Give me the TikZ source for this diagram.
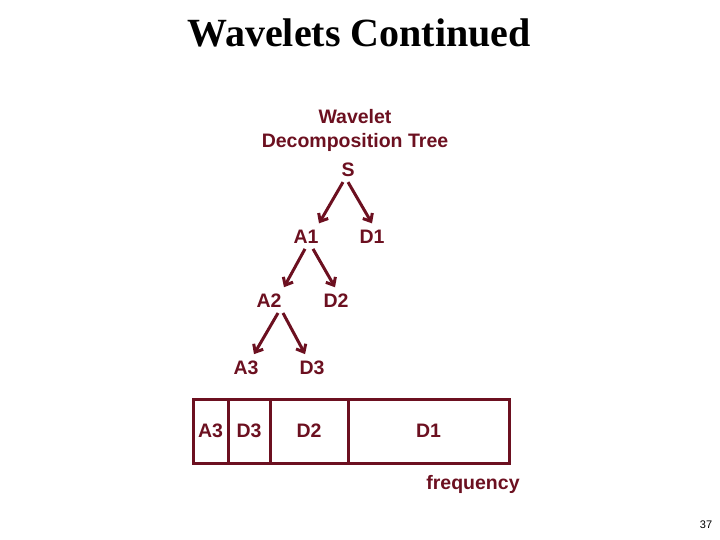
\documentclass[tikz,border=0pt]{standalone}
\usepackage{fontspec}
\setmainfont{Liberation Serif}
\setsansfont{Liberation Sans}
\usepackage{tikz}
\usetikzlibrary{positioning, arrows.meta}
\definecolor{wineRed}{RGB}{108, 16, 32}

\begin{document}
\begin{tikzpicture}[
    x=1pt, y=-1pt,
    lbl/.style={text=wineRed, font=\sffamily\bfseries\fontsize{19.5}{24}\selectfont,
                inner sep=5pt},
    cell/.style={draw=wineRed, line width=3pt, minimum height=64pt, inner sep=0pt,
                 text=wineRed, font=\sffamily\bfseries\fontsize{19.5}{24}\selectfont},
    branch/.style={draw=wineRed, line width=3pt, shorten >=2pt,
                   -{Straight Barb[length=6.5pt, width=11pt]}},
  ]
    \useasboundingbox (0,0) rectangle (720,540);

    % title
    \node[anchor=base, font=\bfseries\fontsize{40}{44}\selectfont] (TITLE) at (359,47)
      {Wavelets Continued};

    % tree heading
    \node[lbl, align=center, inner sep=0pt] (HEAD) at (355,130)
      {Wavelet\\Decomposition Tree};

    % tree nodes
    \node[lbl] (S)  at (348,170) {S};
    \node[lbl] (A1) at (306,237) {A1};
    \node[lbl] (D1) at (372,237) {D1};
    \node[lbl] (A2) at (269,301) {A2};
    \node[lbl] (D2) at (336,301) {D2};
    \node[lbl] (A3) at (246,368) {A3};
    \node[lbl] (D3) at (312,368) {D3};

    \draw[branch] ([xshift=-5pt]S.south) -- ([xshift=12pt]A1.north);
    \draw[branch] (S.south) -- ([xshift=1pt]D1.north);
    \draw[branch] ([xshift=-1pt]A1.south) -- ([xshift=14pt]A2.north);
    \draw[branch] ([xshift=7pt]A1.south) -- (D2.north);
    \draw[branch] ([xshift=9pt]A2.south) -- ([xshift=7pt]A3.north);
    \draw[branch] ([xshift=14pt]A2.south) -- ([xshift=-6pt]D3.north);

    % frequency band
    \node[cell, minimum width=35pt]  (BA3) at (210.5,431) {A3};
    \node[cell, minimum width=42pt]  (BD3) at (249,431)   {D3};
    \node[cell, minimum width=78pt]  (BD2) at (309,431)   {D2};
    \node[cell, minimum width=161pt] (BD1) at (428.5,431) {D1};

    \node[lbl, anchor=base, inner sep=0pt] (FREQ) at (473,489) {frequency};

    % page number
    \node[font=\sffamily\fontsize{11}{13}\selectfont] (PAGE) at (706,525) {37};
  \end{tikzpicture}
\end{document}
